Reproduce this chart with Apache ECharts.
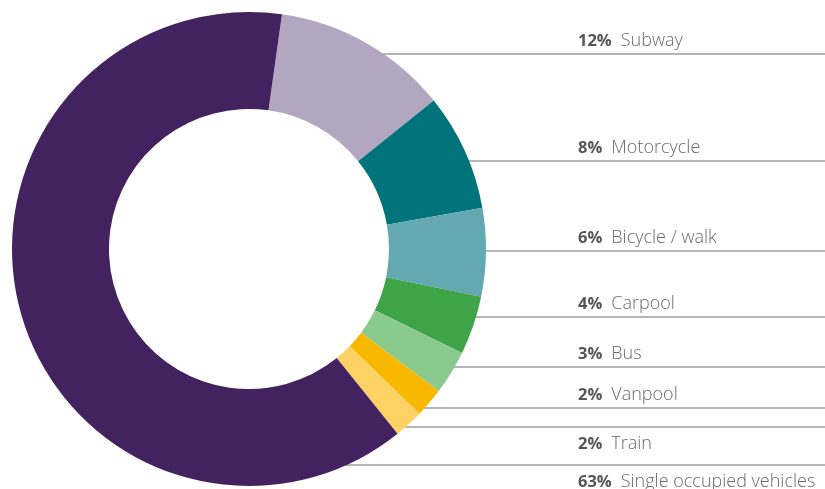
<!DOCTYPE html>
<html>
<head>
<meta charset="utf-8">
<script src="https://cdn.jsdelivr.net/npm/echarts@6/dist/echarts.min.js"></script>
<style>
html,body{margin:0;padding:0;background:#fff;}
#chart{width:825px;height:489px;}
</style>
</head>
<body>
<div id="chart"></div>
<script>
// Data
var categories = ['Subway', 'Motorcycle', 'Bicycle / walk', 'Carpool', 'Bus', 'Vanpool', 'Train', 'Single occupied vehicles'];
var shares = [12, 8, 6, 4, 3, 2, 2, 63];
var colors = ['#b3a6c1', '#01737a', '#64a9b1', '#3fa447', '#8aca8e', '#f8b800', '#fdd264', '#43235f'];

// Label layout (manual placement of leader lines)
var labelLineY = [54, 161, 251, 317, 367, 408, 427, 465];
var labelBelow = [false, false, false, false, false, false, true, true];

var CX = 249, CY = 249, R_IN = 140, R_OUT = 237;
var LABEL_X = 578, RIGHT_X = 825;

var chart = echarts.init(document.getElementById('chart'), null, {renderer: 'canvas'});

var seriesData = categories.map(function (c, i) {
  return {name: c, value: shares[i], itemStyle: {color: colors[i]}};
});

chart.setOption({
  animation: false,
  series: [{
    type: 'pie',
    center: [CX, CY],
    radius: [R_IN, R_OUT],
    startAngle: 82,
    clockwise: true,
    avoidLabelOverlap: false,
    itemStyle: {borderWidth: 0},
    emphasis: {disabled: true},
    label: {
      show: true,
      position: 'outside',
      formatter: function (p) { return '{p|' + p.value + '%}{n|' + p.name + '}'; },
      rich: {
        p: {fontFamily: 'Open Sans', fontWeight: 'bold', fontSize: 16.5, color: '#555555', padding: [0, 9, 0, 0]},
        n: {fontFamily: 'Open Sans', fontWeight: 300, fontSize: 18, color: '#6a6a6a'}
      }
    },
    labelLine: {
      show: true,
      lineStyle: {color: '#6d6d6d', width: 1.2}
    },
    labelLayout: function (params) {
      var i = params.dataIndex;
      var y = labelLineY[i];
      var dy = y - CY;
      var xEdge = CX + Math.sqrt(Math.max(0, R_OUT * R_OUT - dy * dy)) - 1;
      return {
        x: LABEL_X,
        y: labelBelow[i] ? y + 17 : y - 13,
        align: 'left',
        verticalAlign: 'middle',
        labelLinePoints: [[xEdge, y], [xEdge + 1, y], [RIGHT_X, y]]
      };
    },
    data: seriesData
  }]
});
</script>
</body>
</html>
